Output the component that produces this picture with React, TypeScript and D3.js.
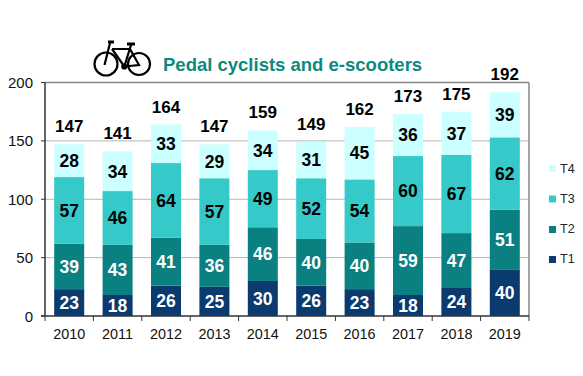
import React from "react";
import * as d3 from "d3";

const years = ["2010","2011","2012","2013","2014","2015","2016","2017","2018","2019"];
const t1 = [23,18,26,25,30,26,23,18,24,40];
const t2 = [39,43,41,36,46,40,40,59,47,51];
const t3 = [57,46,64,57,49,52,54,60,67,62];
const t4 = [28,34,33,29,34,31,45,36,37,39];
const totals = [147,141,164,147,159,149,162,173,175,192];
const seriesNames = ["T1","T2","T3","T4"];
const seriesColors = ["#0b3a6e","#0b8080","#36c9c9","#ccffff"];
const labelColors = ["#ffffff","#ffffff","#000000","#000000"];
const yTicks = [0,50,100,150,200];
const title = "Pedal cyclists and e-scooters";

const font = "'Liberation Sans', Arial, sans-serif";
const left = 45, right = 529, top = 82.5, bottom = 316;

export default function App() {
  const x = d3.scaleBand<string>().domain(years).range([left, right]).paddingInner(0.38).paddingOuter(0.19);
  const y = d3.scaleLinear().domain([0, 200]).range([bottom, top]);
  const rows = years.map((yr, i) => ({ yr, T1: t1[i], T2: t2[i], T3: t3[i], T4: t4[i] }));
  const stacked = d3.stack<any>().keys(seriesNames)(rows);
  const step = (right - left) / years.length;
  const legendRectY = [256, 226, 195.5, 165];
  const legendTextY = [263, 233, 202.5, 172.5];
  return (
    <svg width={583} height={376} style={{ position: "absolute", left: 0, top: 0, background: "#fff" }} fontFamily={font}>
      {yTicks.filter(t => t > 0 && t < 200).map(t => (
        <line key={t} x1={left} x2={right} y1={y(t)} y2={y(t)} stroke="#b4b4b4" strokeWidth={1} />
      ))}
      {stacked.map((s, si) => s.map((d, i) => (
        <rect key={si + "-" + i} x={x(years[i])} width={x.bandwidth()} y={y(d[1])} height={y(d[0]) - y(d[1])} fill={seriesColors[si]} />
      )))}
      <line x1={left} x2={right} y1={top} y2={top} stroke="#868686" strokeWidth={1.5} />
      <line x1={right} x2={right} y1={top} y2={bottom} stroke="#868686" strokeWidth={1.5} />
      <line x1={left} x2={left} y1={top} y2={bottom} stroke="#333" strokeWidth={1.5} />
      <line x1={left - 4} x2={right} y1={bottom} y2={bottom} stroke="#333" strokeWidth={1.5} />
      {yTicks.map(t => (
        <g key={t}>
          <line x1={left - 4} x2={left} y1={y(t)} y2={y(t)} stroke="#333" strokeWidth={1} />
          <text x={33} y={y(t) + 5.5} textAnchor="end" fontSize={15} fill="#111">{t}</text>
        </g>
      ))}
      {d3.range(years.length + 1).map(i => (
        <line key={i} x1={left + i * step} x2={left + i * step} y1={bottom} y2={bottom + 5} stroke="#333" strokeWidth={1} />
      ))}
      {years.map(yr => (
        <text key={yr} x={x(yr)! + x.bandwidth() / 2} y={338.5} textAnchor="middle" fontSize={14.4} fill="#111">{yr}</text>
      ))}
      {stacked.map((s, si) => s.map((d, i) => (
        <text key={si + "-" + i} x={x(years[i])! + x.bandwidth() / 2} y={(y(d[0]) + y(d[1])) / 2 + 6.3} textAnchor="middle" fontSize={17.5} fontWeight="bold" fill={labelColors[si]}>{d[1] - d[0]}</text>
      )))}
      {totals.map((t, i) => (
        <text key={i} x={x(years[i])! + x.bandwidth() / 2} y={y(t) - 12} textAnchor="middle" fontSize={17} fontWeight="bold" fill="#000">{t}</text>
      ))}
      {seriesNames.map((n, i) => (
        <g key={n}>
          <rect x={549} y={legendRectY[i]} width={7} height={7} fill={seriesColors[i]} />
          <text x={560} y={legendTextY[i]} fontSize={12.5} fill="#222">{n}</text>
        </g>
      ))}
      <text x={163} y={70.5} fontSize={18.5} fontWeight="bold" fill="#0b8a80">{title}</text>
      <g fill="none" stroke="#000" strokeWidth={2.2}>
        <circle cx={106} cy={64} r={11.5} />
        <circle cx={139} cy={64} r={11} />
        <path d="M104.5 65 L110 43 M112 49 H130 M112 49 L124.3 66.5 L131 45 M124.3 66.5 L139 65 L130 49" />
        <path d="M108 42 H114 M127 44 H135" strokeWidth={2.8} />
        <circle cx={124.3} cy={66.5} r={2} fill="#000" />
      </g>
    </svg>
  );
}
